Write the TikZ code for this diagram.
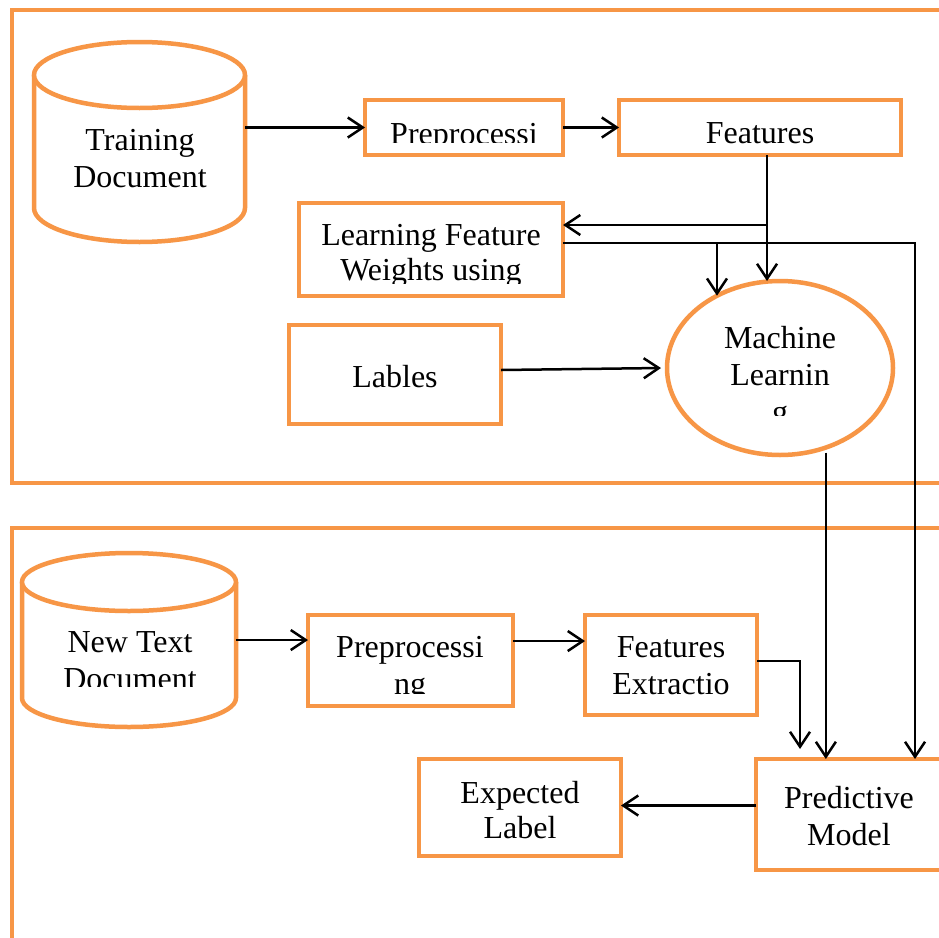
\documentclass[tikz,border=0pt]{standalone}
\usepackage{fontspec}
\setmainfont{Liberation Serif}
\usetikzlibrary{arrows.meta,shapes.geometric}
\definecolor{org}{HTML}{F79646}
\begin{document}
\begin{tikzpicture}[x=1pt,y=-1pt,
  frame/.style={draw=org, line width=4.5pt},
  box/.style={draw=org, line width=4.5pt, fill=white, rectangle, inner sep=0pt, outer sep=0pt},
  oval/.style={draw=org, line width=4.5pt, fill=white, ellipse, inner sep=0pt, outer sep=0pt},
  ghost/.style={inner sep=0pt, outer sep=0pt},
  txt/.style={font=\fontsize{32}{37}\selectfont, inner sep=0pt, anchor=base},
  conn/.style={draw=black, line width=2.5pt, -{Straight Barb[length=15pt,width=20pt]}}]
\clip (0,0) rectangle (939,937);
\fill[white] (0,0) rectangle (939,937);
% outer frames
\draw[frame] (12,10) rectangle (965,483);
\draw[frame] (12,528) rectangle (965,965);
% training document cylinder
\draw[frame, fill=white] (34,75) -- (34,208) arc[start angle=180,end angle=360,x radius=105.5pt,y radius=34pt] -- (245,75);
\draw[frame, fill=white] (139.5,75) ellipse [x radius=105.5pt, y radius=33pt];
\node[ghost, minimum width=211pt, minimum height=133pt] (td) at (139.5,141.5) {};
% new text document cylinder
\draw[frame, fill=white] (22,582) -- (22,698) arc[start angle=180,end angle=360,x radius=107pt,y radius=29pt] -- (236,582);
\draw[frame, fill=white] (129,582) ellipse [x radius=107pt, y radius=29pt];
\node[ghost, minimum width=214pt, minimum height=116pt] (nt) at (129,640) {};
% boxes
\node[box, minimum width=198pt, minimum height=55pt] (pp1) at (464,127.5) {};
\node[box, minimum width=282pt, minimum height=55pt] (feat1) at (760,127.5) {};
\node[box, minimum width=264pt, minimum height=93pt] (lfw) at (431,249.5) {};
\node[box, minimum width=212pt, minimum height=99pt] (lab) at (395,374.5) {};
\node[oval, minimum width=226pt, minimum height=174pt] (ml) at (780,368) {};
\node[box, minimum width=205pt, minimum height=91pt] (pp2) at (410.5,660.5) {};
\node[box, minimum width=172pt, minimum height=100pt] (fe) at (671,665) {};
\node[box, minimum width=186pt, minimum height=111pt] (pm) at (849,814.5) {};
\node[box, minimum width=202pt, minimum height=97pt] (el) at (520,807.5) {};
% texts
\node[txt] (t1a) at (140,150) {Training};
\node[txt] (t1b) at (140,187) {Document};
\begin{scope}
\clip (365,100) rectangle (563,142);
\node[txt] (t2) at (464,144) {Preprocessi};
\end{scope}
\node[txt] (t3) at (760,143) {Features};
\begin{scope}
\clip (299,203) rectangle (563,283);
\node[txt] (t4a) at (431,245) {Learning Feature};
\node[txt] (t4b) at (431,280) {Weights using};
\end{scope}
\node[txt] (t5) at (395,387) {Lables};
\begin{scope}
\clip (600,280) rectangle (900,415);
\node[txt] (t6a) at (780,348) {Machine};
\node[txt] (t6b) at (780,385) {Learnin};
\node[txt] (t6c) at (780,422) {g};
\end{scope}
\begin{scope}
\clip (22,600) rectangle (236,686);
\node[txt] (t7a) at (130,652) {New Text};
\node[txt] (t7b) at (130,689) {Document};
\end{scope}
\begin{scope}
\clip (308,615) rectangle (513,693);
\node[txt] (t8a) at (410,657) {Preprocessi};
\node[txt] (t8b) at (410,694) {ng};
\end{scope}
\node[txt] (t9a) at (671,657) {Features};
\node[txt] (t9b) at (671,694) {Extractio};
\node[txt] (t10a) at (849,808) {Predictive};
\node[txt] (t10b) at (849,845) {Model};
\node[txt] (t11a) at (520,803) {Expected};
\node[txt] (t11b) at (520,838) {Label};
% connectors
\draw[conn] (pp1.west -| td.east) -- (pp1.west);
\draw[conn] (pp1.east) -- (feat1.west);
\coordinate (fdown) at ([xshift=7pt]feat1.south);
\draw[conn] (fdown) -- (fdown |- ml.north);
\coordinate (j1) at ([yshift=-70pt]fdown);
\draw[conn] (j1) -- (j1 -| lfw.east);
\draw[conn] ([yshift=6.5pt]lfw.east) -| ([xshift=66pt]pm.north);
\coordinate (j2) at ([yshift=6.5pt]lfw.east -| 717,0);
\draw[conn] (j2) -- (j2 |- ml.131);
\draw[conn] ([yshift=4.5pt]lab.east) -- ([xshift=-6pt]ml.west);
\coordinate (mldown) at ([yshift=-5pt]ml.-60.6);
\draw[conn] (mldown) -- (mldown |- pm.north);
\draw[conn] (nt.east) -- (nt.east -| pp2.west);
\draw[conn] ([yshift=19.5pt]pp2.east) -- ([yshift=19.5pt]pp2.east -| fe.west);
\draw[conn] ([yshift=4pt]fe.east) -| ([xshift=-49pt,yshift=10pt]pm.north);
\draw[conn] ([yshift=9pt]pm.west) -- ([yshift=9pt]pm.west -| el.east);
\end{tikzpicture}
\end{document}
